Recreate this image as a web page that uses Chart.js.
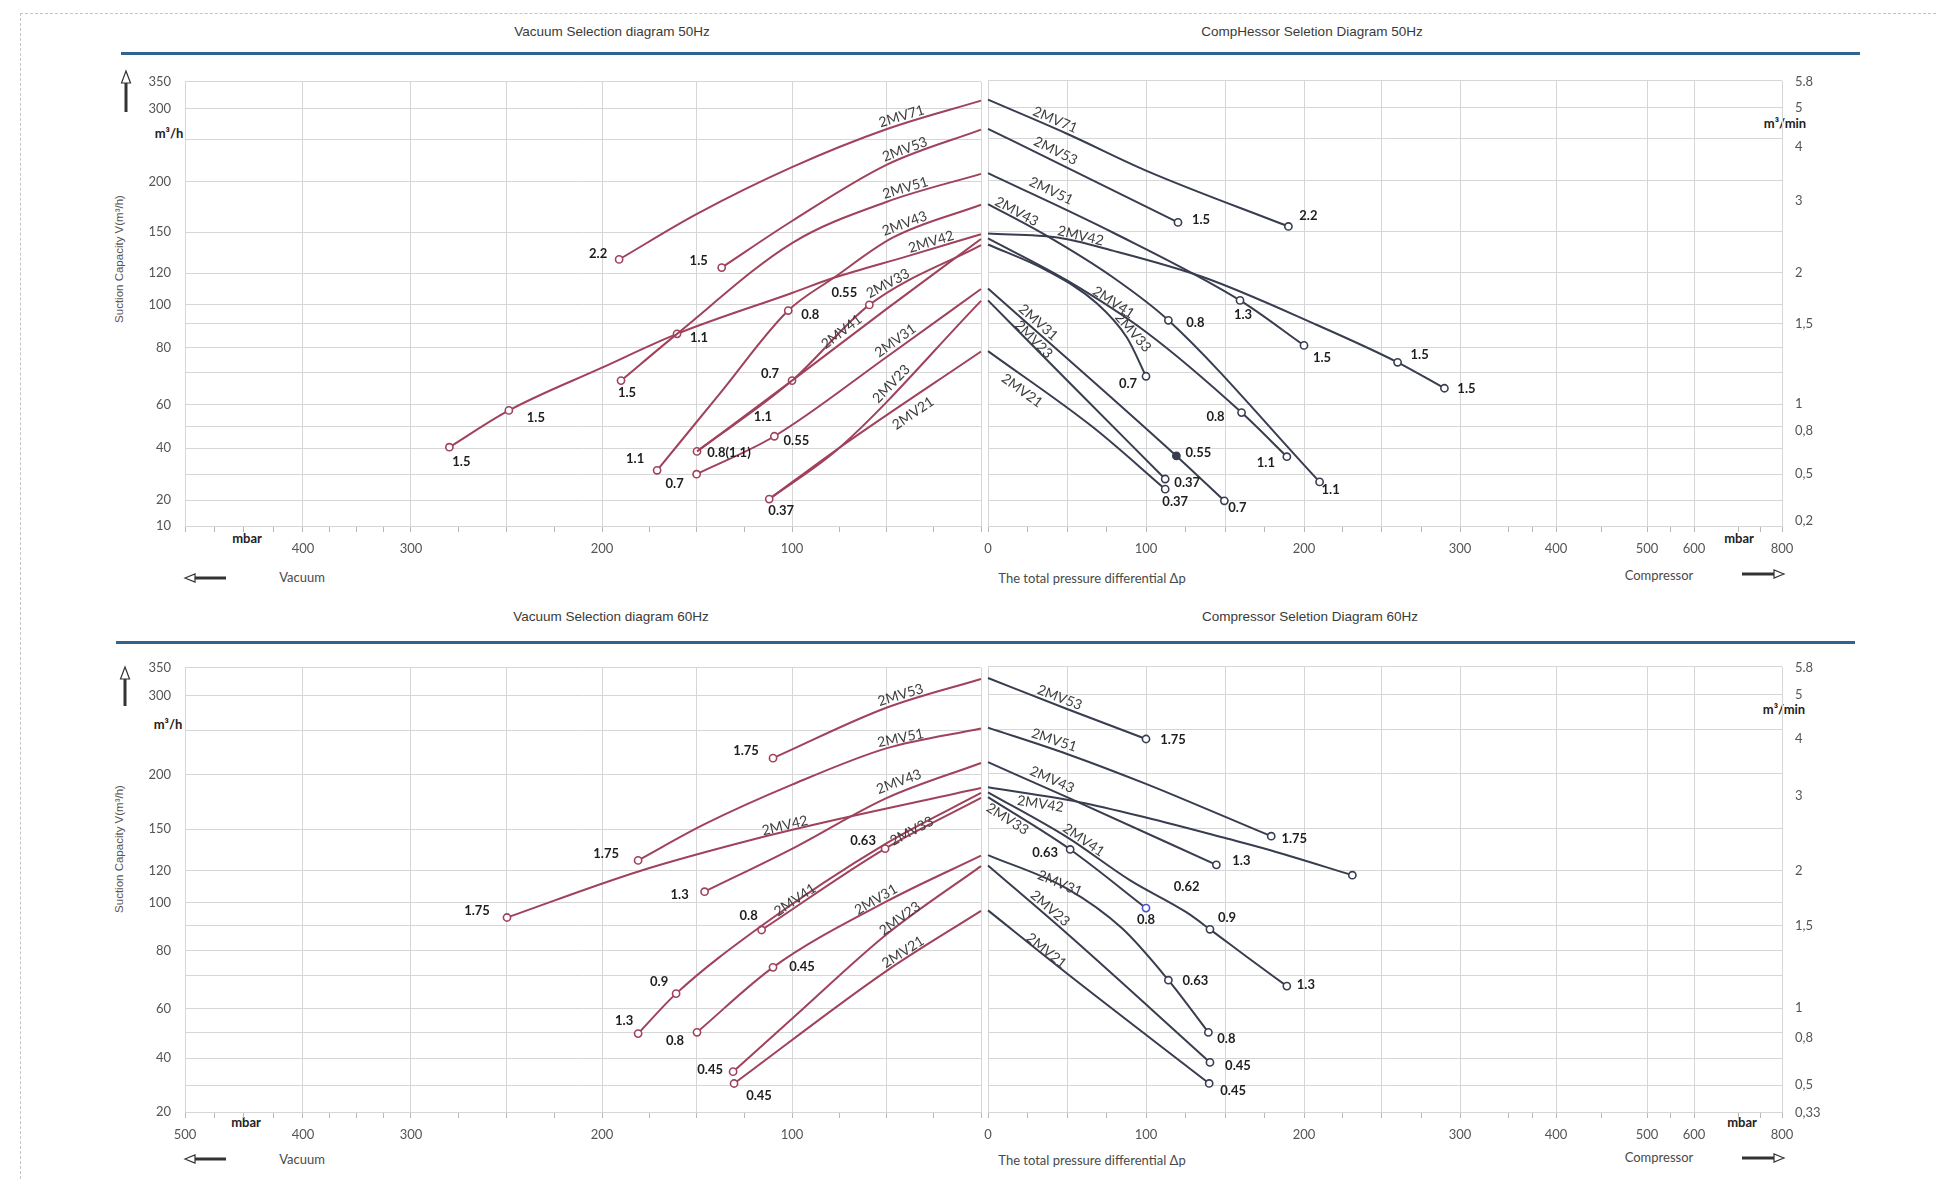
<!DOCTYPE html>
<html>
<head>
<meta charset="utf-8">
<title>2MV selection diagrams</title>
<script src="https://cdn.jsdelivr.net/npm/chart.js@4.4.1/dist/chart.umd.min.js"></script>
<style>
  html, body { margin:0; padding:0; background:#fff; overflow:hidden; }
  body { width:1936px; height:1179px; position:relative; font-family: Lato, "Liberation Sans", sans-serif; color:#444; }
  canvas { position:absolute; }
  .t { position:absolute; white-space:nowrap; transform:translate(-50%,-50%); line-height:1; }
  .title { font-family:"Liberation Sans", Arial, sans-serif; font-size:13.5px; color:#3a3a3a; }
  .unit { font-weight:bold; font-size:13px; color:#222; }
  .cap { font-size:13px; color:#4a4a4a; }
  .ytitle { font-family:"Liberation Sans", Arial, sans-serif; font-size:11.5px; color:#555; transform:translate(-50%,-50%) rotate(-90deg); }
  .frame { position:absolute; left:20px; top:13px; right:-5px; bottom:-5px; border-top:1px dashed #c4c4c4; border-left:1px dashed #c4c4c4; }
  svg.deco { position:absolute; left:0; top:0; }
</style>
</head>
<body>
<div class="frame"></div>
<svg class="deco" width="1936" height="1179">
  <rect x="121" y="52" width="1739" height="3" fill="#2f6490"/>
  <rect x="116" y="641" width="1739" height="3" fill="#2f6490"/>
  <g stroke="#333" fill="#fff">
    <line x1="126" y1="82" x2="126" y2="112" stroke-width="3"/>
    <path d="M121.5 83 L126 71 L130.5 83 Z" stroke-width="1.2"/>
    <line x1="194" y1="578" x2="226" y2="578" stroke-width="3"/>
    <path d="M185 578 L195 574 L195 582 Z" stroke-width="1.2"/>
    <line x1="1742" y1="574" x2="1774" y2="574" stroke-width="3"/>
    <path d="M1784 574 L1774 570 L1774 578 Z" stroke-width="1.2"/>
    <line x1="125" y1="678" x2="125" y2="706" stroke-width="3"/>
    <path d="M120.5 679 L125 667 L129.5 679 Z" stroke-width="1.2"/>
    <line x1="194" y1="1159" x2="226" y2="1159" stroke-width="3"/>
    <path d="M185 1159 L195 1155 L195 1163 Z" stroke-width="1.2"/>
    <line x1="1742" y1="1158" x2="1774" y2="1158" stroke-width="3"/>
    <path d="M1784 1158 L1774 1154 L1774 1162 Z" stroke-width="1.2"/>
  </g>
</svg>

<div class="t title" style="left:612px;top:32px">Vacuum Selection diagram 50Hz</div>
<div class="t title" style="left:1312px;top:32px">CompHessor Seletion Diagram 50Hz</div>
<div class="t unit" style="left:169px;top:133px">m³/h</div>
<div class="t unit" style="left:1785px;top:123px">m³/min</div>
<div class="t ytitle" style="left:120px;top:259px">Suction Capacity V(m³/h)</div>
<div class="t unit" style="left:247px;top:538px">mbar</div>
<div class="t unit" style="left:1739px;top:538px">mbar</div>
<div class="t cap" style="left:302px;top:577px">Vacuum</div>
<div class="t cap" style="left:1092px;top:578px">The total pressure differential Δp</div>
<div class="t cap" style="left:1659px;top:575px">Compressor</div>

<div class="t title" style="left:611px;top:617px">Vacuum Selection diagram 60Hz</div>
<div class="t title" style="left:1310px;top:617px">Compressor Seletion Diagram 60Hz</div>
<div class="t unit" style="left:168px;top:724px">m³/h</div>
<div class="t unit" style="left:1784px;top:709px">m³/min</div>
<div class="t ytitle" style="left:120px;top:849px">Suction Capacity V(m³/h)</div>
<div class="t unit" style="left:246px;top:1122px">mbar</div>
<div class="t unit" style="left:1742px;top:1122px">mbar</div>
<div class="t cap" style="left:302px;top:1159px">Vacuum</div>
<div class="t cap" style="left:1092px;top:1160px">The total pressure differential Δp</div>
<div class="t cap" style="left:1659px;top:1157px">Compressor</div>

<script>
// ---------------- axis geometry (value -> fraction of axis length) ----------------
const yStops50 = [[10,0],[20,0.0583],[30,0.1166],[40,0.1749],[50,0.2242],[60,0.2735],[70,0.3453],[80,0.4013],[90,0.4552],[100,0.4978],[120,0.5695],[150,0.6614],[200,0.7758],[250,0.8700],[300,0.9395],[350,1]];
const yStops60 = [[20,0],[30,0.0605],[40,0.1211],[50,0.1794],[60,0.2332],[70,0.3072],[80,0.3632],[90,0.4193],[100,0.4709],[120,0.5426],[150,0.6368],[200,0.7601],[250,0.8587],[300,0.9372],[350,1]];
const vacStops = [[500,0],[400,0.1482],[300,0.2839],[250,0.4045],[200,0.5239],[150,0.6432],[100,0.7626],[50,0.8819],[0,1]];
const compStops = [[0,0],[50,0.0995],[100,0.1990],[150,0.2997],[200,0.3980],[250,0.4962],[300,0.5945],[400,0.7154],[500,0.8300],[600,0.8892],[800,1]];

// ---------------- tick labels ----------------
const yLabels50 = [350,300,200,150,120,100,80,60,40,20,10];
const yLabels60 = [350,300,200,150,120,100,80,60,40,20];
const vacLabels50 = [400,300,200,100];
const vacLabels60 = [500,400,300,200,100];
const compLabels = [0,100,200,300,400,500,600,800];
const vacMinor = [475,450,425,375,350,325,275,225,175,125,75,25];
const compMinor = [25,75,125,175,225,275,350,375,450,550,700,750];
const flowTicks50 = [5.8,5,4,3,2,1.5,1,0.8,0.5,0.2];
const flowText50 = ['5.8','5','4','3','2','1,5','1','0,8','0,5','0,2'];
const flowTicks60 = [5.8,5,4,3,2,1.5,1,0.8,0.5,0.33];
const flowText60 = ['5.8','5','4','3','2','1,5','1','0,8','0,5','0,33'];

// ---------------- curves: [pressure mbar, capacity m³/h, motor kW at marked point] ----------------
// 50 Hz, vacuum
const vac50_2MV71 = [[191,130,'2.2'],[150,168],[100,217],[50,267],[0,315]];
const vac50_2MV53 = [[137,124,'1.5'],[100,161],[50,220],[0,266]];
const vac50_2MV51 = [[190,67.5,'1.5'],[160.5,85.8],[100,142],[50,180],[0,209]];
const vac50_2MV43 = [[171,31.5,'1.1'],[138,63.4],[102,97,'0.8'],[78,117],[47,146],[0,177]];
const vac50_2MV42 = [[280,40.5,'1.5'],[249,57.3,'1.5'],[200,72],[160.5,85.8,'1.1'],[100,107.5],[78,117],[39,132.4],[0,148.5]];
const vac50_2MV41 = [[150,38.8],[115.3,60.7,'1.1'],[100,67.5],[50,98],[0,145]];
const vac50_2MV33 = [[150,38.8,'0.8(1.1)'],[100,67.5,'0.7'],[59.3,100,'0.55'],[0,140.5]];
const vac50_2MV31 = [[150.2,30,'0.7'],[109.3,45.5,'0.55'],[50,76.4],[0,110]];
const vac50_2MV23 = [[112,20.4,'0.37'],[74.7,40.5],[0,102.5]];
const vac50_2MV21 = [[112,20.4],[74.7,40.5],[0,78.5]];
// 50 Hz, compressor
const comp50_2MV71 = [[0,315],[50,258],[100,212],[190,155,'2.2']];
const comp50_2MV53 = [[0,266],[50,215.5],[120,159,'1.5']];
const comp50_2MV51 = [[0,209],[79,149.3],[159,102.5,'1.3'],[200,80.8,'1.5']];
const comp50_2MV43 = [[0,177],[37,147],[79,117],[114,91.6,'0.8'],[210,27,'1.1']];
const comp50_2MV42 = [[0,148.5],[44,145.6],[79,136],[136,117],[206,90],[260,74,'1.5'],[290,65,'1.5']];
const comp50_2MV41 = [[0,145],[50,115],[100,86.4],[160,56.2,'0.8'],[189,36.7,'1.1']];
const comp50_2MV33 = [[0,140.5],[37,121.5],[69,100.6],[88,84],[100,68.75,'0.7']];
const comp50_2MV31 = [[0,110],[119,37,'0.55'],[149,19.7,'0.7']];
const comp50_2MV23 = [[0,102.5],[50,67.5],[112,28.1,'0.37']];
const comp50_2MV21 = [[0,78.5],[66.5,49.5],[112,24.2,'0.37']];
// 60 Hz, vacuum
const vac60_2MV53 = [[110,218.5,'1.75'],[50,283],[0,330]];
const vac60_2MV51 = [[181,127.6,'1.75'],[146,154.5],[100,190.6],[50,230],[0,253]];
const vac60_2MV43 = [[146,107,'1.3'],[99,136.6],[50,178.5],[0,213]];
const vac60_2MV42 = [[250,93.6,'1.75'],[180,120],[117,143.8],[76.5,158.8],[0,187.5]];
const vac60_2MV41 = [[181,49.5,'1.3'],[161,64.5,'0.9'],[116,90],[51,139.3],[0,183]];
const vac60_2MV33 = [[116,88.3,'0.8'],[51,136,'0.63'],[0,178.5]];
const vac60_2MV31 = [[150,50,'0.8'],[110,73.3,'0.45'],[50,101],[0,131]];
const vac60_2MV23 = [[131,35,'0.45'],[99,56.4],[50,86.7],[0,123.5]];
const vac60_2MV21 = [[130.5,30.6,'0.45'],[50,72],[0,96.5]];
// 60 Hz, compressor
const comp60_2MV53 = [[0,330],[50,279.6],[100,239.4,'1.75']];
const comp60_2MV51 = [[0,253],[50,222.4],[100,190.6],[150,160.3],[179,144.5,'1.75']];
const comp60_2MV43 = [[0,213],[50,178.5],[144,124,'1.3']];
const comp60_2MV42 = [[0,187.5],[58,174],[100,160],[150,143],[179,134.3],[231,117,'']];
const comp60_2MV41 = [[0,183],[50,143.8],[90,113.75],[125.4,95.6,'0.62'],[140,88.4,'0.9'],[163.5,77.3],[189,66.7,'1.3']];
const comp60_2MV33 = [[0,178.5],[52,135,'0.63'],[100,97.5,'0.8']];
const comp60_2MV31 = [[0,131],[50,108.6],[85,88.7],[114,68.5,'0.63'],[139,49.9,'0.8']];
const comp60_2MV23 = [[0,123.5],[50,86.7],[140,38.4,'0.45']];
const comp60_2MV21 = [[0,96.5],[50,70.7],[139.5,30.6,'0.45']];

// ---------------- label placement (name along curve, kW label offsets in px) ----------------
const vac50Layout = [
  { name:'2MV71', data:vac50_2MV71, nameAt:41, nameOff:8, places:[[-21,-6]] },
  { name:'2MV53', data:vac50_2MV53, nameAt:39, nameOff:8, places:[[-23,-7]] },
  { name:'2MV51', data:vac50_2MV51, nameAt:39, nameOff:8, places:[[6,12]] },
  { name:'2MV43', data:vac50_2MV43, nameAt:39, nameOff:9, places:[[-22,-12],[22,4]] },
  { name:'2MV42', data:vac50_2MV42, nameAt:25.5, nameOff:7, places:[[12,15],[27,7],[22,4]] },
  { name:'2MV41', data:vac50_2MV41, nameAt:71, nameOff:9, places:[[0,15,'none']] },
  { name:'2MV33', data:vac50_2MV33, nameAt:47, nameOff:10, places:[[32,1],[-22,-7],[-25,-12]] },
  { name:'2MV31', data:vac50_2MV31, nameAt:43, nameOff:8, places:[[-22,10],[22,5]] },
  { name:'2MV23', data:vac50_2MV23, nameAt:45, nameOff:7, places:[[12,12]] },
  { name:'2MV21', data:vac50_2MV21, nameAt:40, nameOff:-13, places:[] }
];
const comp50Layout = [
  { name:'2MV71', data:comp50_2MV71, nameAt:40.5, nameOff:8, places:[[20,-11]] },
  { name:'2MV53', data:comp50_2MV53, nameAt:40, nameOff:10, places:[[23,-3]] },
  { name:'2MV51', data:comp50_2MV51, nameAt:37, nameOff:11, places:[[3,14],[18,12]] },
  { name:'2MV43', data:comp50_2MV43, nameAt:16, nameOff:7, places:[[27,3],[11,8]] },
  { name:'2MV42', data:comp50_2MV42, nameAt:57.6, nameOff:7, places:[[22,-7],[22,1]] },
  { name:'2MV41', data:comp50_2MV41, nameAt:77, nameOff:7, places:[[-26,4],[-21,6]] },
  { name:'2MV33', data:comp50_2MV33, nameAt:88, nameOff:8, places:[[-18,8]] },
  { name:'2MV31', data:comp50_2MV31, nameAt:28.5, nameOff:8, places:[[22,-3,'filled'],[13,7]] },
  { name:'2MV23', data:comp50_2MV23, nameAt:26.6, nameOff:5, places:[[22,4]] },
  { name:'2MV21', data:comp50_2MV21, nameAt:26, nameOff:-12, places:[[10,13]] }
];
const vac60Layout = [
  { name:'2MV53', data:vac60_2MV53, nameAt:41.5, nameOff:8, places:[[-27,-7]] },
  { name:'2MV51', data:vac60_2MV51, nameAt:42, nameOff:7, places:[[-32,-7]] },
  { name:'2MV43', data:vac60_2MV43, nameAt:41.6, nameOff:11, places:[[-25,3]] },
  { name:'2MV42', data:vac60_2MV42, nameAt:103, nameOff:6, places:[[-30,-7]] },
  { name:'2MV41', data:vac60_2MV41, nameAt:97.5, nameOff:3, places:[[-14,-13],[-17,-12]] },
  { name:'2MV33', data:vac60_2MV33, nameAt:36, nameOff:3, places:[[-13,-14],[-22,-8]] },
  { name:'2MV31', data:vac60_2MV31, nameAt:54, nameOff:7, places:[[-22,9],[29,-1]] },
  { name:'2MV23', data:vac60_2MV23, nameAt:41.6, nameOff:5, places:[[-23,-2]] },
  { name:'2MV21', data:vac60_2MV21, nameAt:39.5, nameOff:7, places:[[25,12]] }
];
const comp60Layout = [
  { name:'2MV53', data:comp60_2MV53, nameAt:43.5, nameOff:8, places:[[27,1]] },
  { name:'2MV51', data:comp60_2MV51, nameAt:40, nameOff:9, places:[[23,3]] },
  { name:'2MV43', data:comp60_2MV43, nameAt:38, nameOff:10, places:[[25,-4]] },
  { name:'2MV42', data:comp60_2MV42, nameAt:34, nameOff:-8, places:[[0,0]] },
  { name:'2MV41', data:comp60_2MV41, nameAt:58, nameOff:7, places:[[0,-26,'none'],[17,-12],[19,-1]] },
  { name:'2MV33', data:comp60_2MV33, nameAt:15, nameOff:-8, places:[[-25,3],[0,12,'blue']] },
  { name:'2MV31', data:comp60_2MV31, nameAt:45, nameOff:2, places:[[27,1],[18,6]] },
  { name:'2MV23', data:comp60_2MV23, nameAt:36, nameOff:8, places:[[28,3]] },
  { name:'2MV21', data:comp60_2MV21, nameAt:35, nameOff:5, places:[[24,7]] }
];

// ---------------- styling ----------------
const GRID = '#d6d6d6';
const VAC_COLOR = '#a0425c';
const COMP_COLOR = '#383d50';
Chart.defaults.font.family = 'Lato';

// ---------------- piecewise-linear axis ----------------
const AXIS_TABLES = {};
function addTable(key, stops, ticks) {
  const sorted = stops.slice().sort((a, b) => a[0] - b[0]);
  AXIS_TABLES[key] = { stops, sorted, ticks };
}
addTable('y50', yStops50, yStops50.map(s => s[0]));
addTable('y60', yStops60, yStops60.map(s => s[0]));
addTable('vac', vacStops, vacStops.map(s => s[0]).concat(vacMinor));
addTable('comp', compStops, compStops.map(s => s[0]).concat(compMinor));
addTable('f50', yStops50.map(s => [s[0] / 60, s[1]]), flowTicks50);
addTable('f60', yStops60.map(s => [s[0] / 60, s[1]]), flowTicks60);

class PiecewiseScale extends Chart.Scale {
  determineDataLimits() {
    const s = AXIS_TABLES[this.options.table].sorted;
    this.min = s[0][0];
    this.max = s[s.length - 1][0];
  }
  buildTicks() {
    return AXIS_TABLES[this.options.table].ticks.map(v => ({ value: v }));
  }
  getLabelForValue(v) { return String(v); }
  decimalFor(v) {
    const s = AXIS_TABLES[this.options.table].sorted;
    let i = 1;
    while (i < s.length - 1 && v > s[i][0]) i++;
    const a = s[i - 1], b = s[i];
    return a[1] + (v - a[0]) / (b[0] - a[0]) * (b[1] - a[1]);
  }
  getPixelForValue(v) { return this.getPixelForDecimal(this.decimalFor(v)); }
  getValueForPixel(p) {
    const d = this.getDecimalForPixel(p);
    const s = AXIS_TABLES[this.options.table].stops.slice().sort((a, b) => a[1] - b[1]);
    let i = 1;
    while (i < s.length - 1 && d > s[i][1]) i++;
    const a = s[i - 1], b = s[i];
    return a[0] + (d - a[1]) / (b[1] - a[1]) * (b[0] - a[0]);
  }
  getPixelForTick(i) { return this.getPixelForValue(this.ticks[i].value); }
}
PiecewiseScale.id = 'piecewise';
PiecewiseScale.defaults = {};
Chart.register(PiecewiseScale);

// ---------------- labels drawn on the curves ----------------
const curveText = {
  id: 'curveText',
  afterDatasetsDraw(chart) {
    const ctx = chart.ctx;
    const xs = chart.scales.x;
    chart.data.datasets.forEach((ds, di) => {
      const pts = chart.getDatasetMeta(di).data;
      // model name along the curve
      if (ds.nameAt !== undefined && pts.length > 1) {
        const px = xs.getPixelForValue(ds.nameAt);
        let k = 0;
        for (let i = 0; i < pts.length - 1; i++) {
          if ((px - pts[i].x) * (px - pts[i + 1].x) <= 0) { k = i; break; }
        }
        const A = pts[k], B = pts[k + 1];
        const t = (px - A.x) / (B.x - A.x);
        const py = A.y + t * (B.y - A.y);
        const ang = Math.atan2(B.y - A.y, B.x - A.x);
        ctx.save();
        ctx.translate(px + Math.sin(ang) * ds.nameOff, py - Math.cos(ang) * ds.nameOff);
        ctx.rotate(ang);
        ctx.font = '14px Lato';
        ctx.fillStyle = '#3f3f3f';
        ctx.textAlign = 'center';
        ctx.textBaseline = 'middle';
        ctx.fillText(ds.label, 0, 0);
        ctx.restore();
      }
      // motor power next to marked points
      ctx.save();
      ctx.font = 'bold 13px Lato';
      ctx.fillStyle = '#1e1e1e';
      ctx.textAlign = 'center';
      ctx.textBaseline = 'middle';
      ds.data.forEach((p, i) => {
        if (!p.kw) return;
        ctx.fillText(p.kw, pts[i].x + p.dx, pts[i].y + p.dy);
      });
      ctx.restore();
    });
  }
};

function curveSets(layout, color) {
  return layout.map(c => {
    let m = 0;
    const pts = c.data.map(p => {
      const o = { x: p[0], y: p[1] };
      if (p.length > 2) {
        const pl = c.places[m++] || [0, 0];
        o.kw = p[2]; o.dx = pl[0]; o.dy = pl[1]; o.mk = pl[2] || 'open';
      }
      return o;
    });
    return {
      label: c.name, data: pts, nameAt: c.nameAt, nameOff: c.nameOff,
      borderColor: color, borderWidth: 2, fill: false,
      cubicInterpolationMode: 'monotone',
      pointRadius: ctx => (ctx.raw && ctx.raw.mk && ctx.raw.mk !== 'none') ? 3.6 : 0,
      pointHoverRadius: 0,
      pointBorderWidth: 1.6,
      pointBorderColor: ctx => (ctx.raw && ctx.raw.mk === 'blue') ? '#4a50c8' : color,
      pointBackgroundColor: ctx => (ctx.raw && ctx.raw.mk === 'filled') ? color : '#ffffff'
    };
  });
}

function xAxis(table, labels, minor, height) {
  const labelSet = new Set(labels), minorSet = new Set(minor);
  return {
    type: 'piecewise', table: table, position: 'bottom',
    afterFit: s => { s.height = height; },
    grid: {
      color: c => (c.tick && minorSet.has(c.tick.value)) ? 'rgba(0,0,0,0)' : GRID,
      tickColor: '#b8b8b8', tickLength: 6, lineWidth: 1
    },
    border: { color: GRID },
    ticks: { autoSkip: false, maxRotation: 0, padding: 9, color: '#555', font: { size: 13 },
             callback: v => labelSet.has(v) ? String(v) : '' }
  };
}

function makeChart(box, xCfg, yTable, yLabels, flow, layout, color) {
  const cv = document.createElement('canvas');
  cv.width = box.w; cv.height = box.h;
  cv.style.left = box.left + 'px'; cv.style.top = box.top + 'px';
  cv.style.width = box.w + 'px'; cv.style.height = box.h + 'px';
  document.body.appendChild(cv);
  const labelSet = new Set(yLabels || []);
  const scales = {
    x: xCfg,
    y: {
      type: 'piecewise', table: yTable, position: 'left',
      afterFit: s => { s.width = box.yWidth; },
      grid: { color: GRID, drawTicks: false, lineWidth: 1 },
      border: { color: GRID },
      ticks: { display: !!yLabels, autoSkip: false, padding: 14, color: '#555', font: { size: 13 },
               callback: v => labelSet.has(v) ? String(v) : '' }
    }
  };
  if (flow) {
    const txt = new Map(flow.ticks.map((v, i) => [v, flow.text[i]]));
    scales.y2 = {
      type: 'piecewise', table: flow.table, position: 'right',
      afterFit: s => { s.width = 60; },
      grid: { display: false, drawTicks: false },
      border: { display: false },
      ticks: { autoSkip: false, padding: 13, color: '#555', font: { size: 13 },
               callback: v => txt.has(v) ? txt.get(v) : '' }
    };
  }
  return new Chart(cv, {
    type: 'line',
    data: { datasets: curveSets(layout, color) },
    options: {
      responsive: false, maintainAspectRatio: false, animation: false, devicePixelRatio: 1,
      events: [],
      layout: { padding: box.pad },
      plugins: { legend: { display: false }, tooltip: { enabled: false } },
      scales
    },
    plugins: [curveText]
  });
}

// top row: 50 Hz
makeChart({ left:100, top:60, w:890, h:540, yWidth:85, pad:{ left:0, top:20, right:9, bottom:0 } },
  xAxis('vac', vacLabels50, vacMinor, 74), 'y50', yLabels50, null, vac50Layout, VAC_COLOR);
makeChart({ left:970, top:60, w:900, h:540, yWidth:0, pad:{ left:18, top:20, right:28, bottom:0 } },
  xAxis('comp', compLabels, compMinor, 74), 'y50', null,
  { table:'f50', ticks:flowTicks50, text:flowText50 }, comp50Layout, COMP_COLOR);

// bottom row: 60 Hz
makeChart({ left:100, top:646, w:890, h:524, yWidth:85, pad:{ left:0, top:20, right:9, bottom:0 } },
  xAxis('vac', vacLabels60, vacMinor, 58), 'y60', yLabels60, null, vac60Layout, VAC_COLOR);
makeChart({ left:970, top:646, w:900, h:524, yWidth:0, pad:{ left:18, top:20, right:28, bottom:0 } },
  xAxis('comp', compLabels, compMinor, 58), 'y60', null,
  { table:'f60', ticks:flowTicks60, text:flowText60 }, comp60Layout, COMP_COLOR);
</script>
</body>
</html>
